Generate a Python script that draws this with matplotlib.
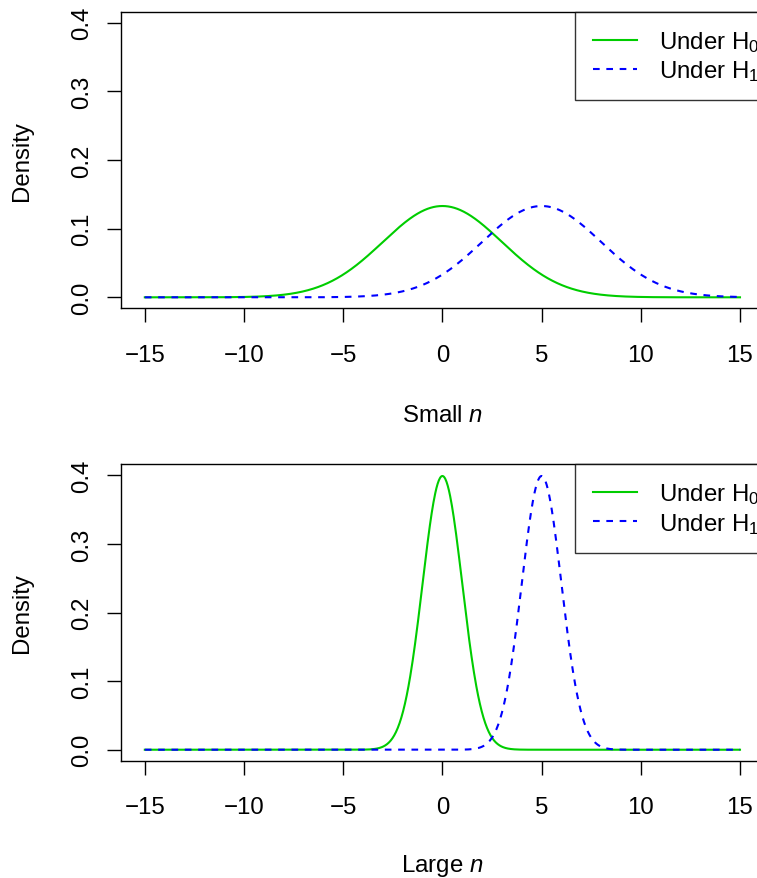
import numpy as np
import matplotlib
matplotlib.use("Agg")
import matplotlib.pyplot as plt

plt.rcParams['font.family'] = ['Liberation Sans', 'DejaVu Sans']
plt.rcParams['mathtext.fontset'] = 'custom'
plt.rcParams['mathtext.rm'] = 'Liberation Sans'
plt.rcParams['mathtext.it'] = 'Liberation Sans:italic'

# Data: normal densities
panel_xlabels = ["Small $n$", "Large $n$"]
h0_mean = [0.0, 0.0]
h1_mean = [5.0, 5.0]
panel_sd = [3.0, 1.0]
x_range = [-15, 15]
x_ticks = [-15, -10, -5, 0, 5, 10, 15]
y_ticks = [0.0, 0.1, 0.2, 0.3, 0.4]
legend_labels = ["Under H$_0$", "Under H$_1$"]

W, H = 757, 879
fig = plt.figure(figsize=(W / 100, H / 100), dpi=100)
FS = 17.3

def dens(x, m, s):
    return np.exp(-0.5 * ((x - m) / s) ** 2) / (s * np.sqrt(2 * np.pi))

panels = [(121, 12.7, 763.8, 309.3, 415.7), (121, 465.3, 763.8, 761.7, 866.5)]
x = np.linspace(x_range[0], x_range[1], 1001)
for i, (l, t, r, b, xl_y) in enumerate(panels):
    ax = fig.add_axes([l / W, 1 - b / H, (r - l) / W, (b - t) / H])
    ax.plot(x, dens(x, h0_mean[i], panel_sd[i]), color='#00CD00', lw=1.5,
            label=legend_labels[0])
    ax.plot(x, dens(x, h1_mean[i], panel_sd[i]), color='#0000FF', lw=1.5,
            linestyle=(0, (3.2, 3.2)), label=legend_labels[1])
    ax.set_xlim(-16.2, 16.2)
    ax.set_ylim(-0.016, 0.416)
    ax.set_xticks(x_ticks)
    ax.set_xticklabels([("\u2212" + str(-v)) if v < 0 else str(v) for v in x_ticks])
    ax.set_yticks(y_ticks)
    ax.set_yticklabels([f"{v:.1f}" for v in y_ticks], rotation=90, va='center')
    ax.tick_params(axis='both', direction='out', length=10, width=1,
                   labelsize=FS, color='black')
    ax.tick_params(axis='x', pad=15.5)
    ax.tick_params(axis='y', pad=10)
    for sp in ax.spines.values():
        sp.set_linewidth(1.0)
        sp.set_color('black')
    leg = ax.legend(loc='upper right', fontsize=FS, frameon=True, fancybox=False,
                    bbox_to_anchor=(1 + 12.5 / (r - l), 1.0),
                    borderaxespad=0, edgecolor='black', handlelength=1.85,
                    handletextpad=0.9, borderpad=0.72, labelspacing=0.18)
    leg.get_frame().set_linewidth(1.0)
    fig.text(22 / W, 1 - (t + b) / 2 / H, "Density", rotation=90, ha='center',
             va='center', fontsize=FS)
    fig.text((145 + 740) / 2 / W, 1 - xl_y / H, panel_xlabels[i], ha='center',
             va='center', fontsize=FS)

fig.savefig("out.png", dpi=100)
